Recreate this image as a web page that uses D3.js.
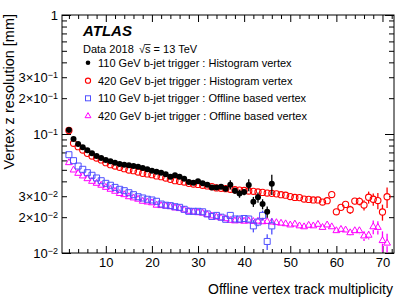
<!DOCTYPE html>
<html>
<head>
<meta charset="utf-8">
<script src="https://cdn.jsdelivr.net/npm/d3@7"></script>
<style>
body { margin: 0; background: #fff; }
text { font-family: "Liberation Sans", Arial, Helvetica, sans-serif; fill: #000; }
</style>
</head>
<body>
<script>
// track multiplicity (x) for the two triggers
var mult110 = [2,3,4,5,6,7,8,9,10,11,12,13,14,15,16,17,18,19,20,21,22,23,24,25,26,27,28,29,30,31,32,33,34,35,36,37,38,39,40,41,42,43,44,45,46];
var mult420 = [2,3,4,5,6,7,8,9,10,11,12,13,14,15,16,17,18,19,20,21,22,23,24,25,26,27,28,29,30,31,32,33,34,35,36,37,38,39,40,41,42,43,44,45,46,47,48,49,50,51,52,53,54,55,56,57,58,59,60,61,62,63,64,65,66,67,68,69,70,71];

// 110 GeV trigger : histogram vertex
var histo110 = [0.108,0.0908,0.0824,0.0773,0.0730,0.0688,0.0653,0.0628,0.0605,
  0.0590,0.0574,0.0560,0.0552,0.0546,0.0538,0.0531,0.0517,0.0505,0.0492,
  0.0482,0.0473,0.0458,0.0438,0.0450,0.0438,0.0421,0.0395,0.0390,0.0400,
  0.0385,0.0375,0.0356,0.0356,0.0361,0.0347,
  0.0375,0.0334,0.0316,0.0325,0.0373,0.0270,0.0294,0.0258,0.0222,0.0381];
var histo110Err = [0.0008,0.0006,0.0005,0.0005,0.0004,0.0004,0.0004,0.0004,0.0004,
  0.0004,0.0004,0.0005,0.0005,0.0005,0.0005,0.0006,0.0006,0.0006,0.0007,
  0.0007,0.0008,0.0008,0.0009,0.0009,0.0010,0.0010,0.0011,0.0012,0.0013,
  0.0013,0.0014,0.0015,0.0016,0.0017,0.0018,
  0.0033,0.0019,0.0025,0.0019,0.0043,0.0026,0.0029,0.0025,0.0024,0.0074];

// 420 GeV trigger : histogram vertex
var histo420 = [0.107,0.0835,0.0782,0.0734,0.0688,0.0653,0.0628,0.0605,0.0574,
  0.0552,0.0538,0.0525,0.0511,0.0498,0.0492,0.0479,0.0467,0.0462,0.0455,
  0.0444,0.0438,0.0427,0.0416,0.0405,0.0400,0.0395,0.0385,0.0380,0.0377,
  0.0371,0.0366,0.0361,0.0352,0.0350,0.0347,0.0343,0.0340,0.0338,0.0335,
  0.0332,0.0330,0.0326,0.0323,0.0319,0.0317,0.0314,0.0309,0.0306,0.0298,
  0.0293,0.0292,0.0284,0.0282,0.0279,0.0279,0.0268,0.0275,0.0310,0.0222,
  0.0242,0.0256,0.0231,0.0273,0.0272,0.0253,0.0294,0.0283,0.0276,0.0221,0.0297];
var histo420Err = [0.0006,0.0005,0.0004,0.0004,0.0003,0.0003,0.0003,0.0003,0.0003,
  0.0003,0.0003,0.0003,0.0003,0.0003,0.0003,0.0003,0.0003,0.0003,0.0003,
  0.0003,0.0003,0.0003,0.0003,0.0003,0.0003,0.0003,0.0003,0.0003,0.0003,
  0.0003,0.0003,0.0003,0.0003,0.0003,0.0003,0.0003,0.0003,0.0003,0.0003,
  0.0003,0.0003,0.0003,0.0004,0.0004,0.0004,0.0004,0.0004,0.0005,0.0005,
  0.0005,0.0006,0.0006,0.0007,0.0007,0.0008,0.0009,0.0010,0.0011,0.0013,
  0.0014,0.0015,0.0018,0.0016,0.0021,0.0025,0.0034,0.0033,0.0043,0.0034,0.0058];

// 110 GeV trigger : offline based vertex
var offline110 = [0.0670,0.0597,0.0538,0.0505,0.0473,0.0450,0.0427,0.0405,0.0385,
  0.0371,0.0356,0.0343,0.0334,0.0321,0.0309,0.0297,0.0290,0.0283,0.0279,
  0.0272,0.0258,0.0252,0.0250,0.0245,0.0242,0.0233,0.0224,0.0224,0.0224,
  0.0222,0.0213,0.0203,0.0207,0.0200,0.0192,
  0.0207,0.0193,0.0193,0.0195,0.0193,0.0169,0.0182,0.0207,0.0125,0.0169];
var offline110Err = [0.0005,0.0004,0.0004,0.0003,0.0003,0.0003,0.0003,0.0003,0.0003,
  0.0003,0.0003,0.0003,0.0003,0.0003,0.0004,0.0004,0.0004,0.0004,0.0004,
  0.0004,0.0005,0.0005,0.0005,0.0005,0.0006,0.0006,0.0006,0.0007,0.0007,
  0.0007,0.0008,0.0008,0.0009,0.0009,0.0010,
  0.0012,0.0012,0.0012,0.0012,0.0013,0.0020,0.0014,0.0020,0.0019,0.0026];

// 420 GeV trigger : offline based vertex
var offline420 = [0.0574,0.0498,0.0467,0.0444,0.0421,0.0400,0.0385,0.0371,0.0356,
  0.0343,0.0330,0.0316,0.0309,0.0297,0.0290,0.0283,0.0272,0.0268,0.0264,
  0.0252,0.0250,0.0248,0.0245,0.0239,0.0236,0.0230,0.0224,0.0221,0.0218,
  0.0216,0.0210,0.0205,0.0200,0.0197,0.0194,0.0188,0.0186,0.0187,0.0185,
  0.0186,0.0184,0.0185,0.0183,0.0184,0.0182,0.0180,0.0178,0.0176,0.0172,
  0.0175,0.0169,0.0166,0.0171,0.0169,0.0174,0.0164,0.0172,0.0166,0.0154,
  0.0158,0.0156,0.0148,0.0154,0.0154,0.0139,0.0141,0.0166,0.0164,0.0127,0.0121];
var offline420Err = [0.0004,0.0003,0.0003,0.0002,0.0002,0.0002,0.0002,0.0002,0.0002,
  0.0002,0.0002,0.0002,0.0002,0.0002,0.0002,0.0002,0.0002,0.0002,0.0002,
  0.0002,0.0002,0.0002,0.0002,0.0002,0.0002,0.0002,0.0002,0.0002,0.0002,
  0.0002,0.0002,0.0002,0.0002,0.0002,0.0003,0.0003,0.0003,0.0003,0.0003,
  0.0003,0.0003,0.0003,0.0003,0.0003,0.0003,0.0004,0.0004,0.0004,0.0004,
  0.0004,0.0004,0.0005,0.0005,0.0005,0.0005,0.0006,0.0006,0.0007,0.0008,
  0.0008,0.0008,0.0009,0.0009,0.0010,0.0013,0.0011,0.0022,0.0021,0.0025,0.0024];

var legendLabels = ["110 GeV b-jet trigger : Histogram vertex",
                    "420 GeV b-jet trigger : Histogram vertex",
                    "110 GeV b-jet trigger : Offline based vertex",
                    "420 GeV b-jet trigger : Offline based vertex"];

var xMajor = [10,20,30,40,50,60,70];
var xMinor = [2,4,6,8,12,14,16,18,22,24,26,28,32,34,36,38,42,44,46,48,52,54,56,58,62,64,66,68,72];
var yMajor = [0.01,0.1,1];
var yMinor = [0.02,0.03,0.04,0.05,0.06,0.07,0.08,0.09,0.2,0.3,0.4,0.5,0.6,0.7,0.8,0.9];
var yLabelled = [0.01,0.02,0.03,0.1,0.2,0.3,1];

var width = 415, height = 298;
var padL = 62, padR = 394, padT = 15, padB = 253;

var svg = d3.select("body").append("svg").attr("width", width).attr("height", height);

var x = d3.scaleLinear().domain([0.5, 72.5]).range([padL, padR]);
var y = d3.scaleLog().domain([0.01, 1]).range([padB, padT]);

//label like ROOT: 3x10^-2
function sciLabel(sel) {
  sel.each(function(d) {
    var t = d3.select(this);
    t.text(null);
    if (yLabelled.indexOf(d) < 0) return;
    if (d === 1) { t.text("1"); return; }
    var e = Math.floor(Math.log10(d) + 1e-9);
    var m = Math.round(d / Math.pow(10, e));
    t.append("tspan").text((m > 1 ? m + "\u00d7" : "") + "10");
    t.append("tspan").attr("dy", "-0.45em").attr("font-size", "9px").text("\u2212" + (-e));
  });
}

function tidy(g) { g.select(".domain").remove(); g.selectAll("line").attr("stroke", "#000"); }

//bottom axis
svg.append("g").attr("transform", "translate(0," + padB + ")")
  .call(d3.axisBottom(x).tickValues(xMajor).tickSize(-7).tickPadding(5).tickFormat(d3.format("d")))
  .call(tidy)
  .selectAll("text").attr("font-size", "13px").attr("font-family", "Liberation Sans, Arial, sans-serif");
svg.append("g").attr("transform", "translate(0," + padB + ")")
  .call(d3.axisBottom(x).tickValues(xMinor).tickSize(-4).tickFormat(""))
  .call(tidy);
//top axis
svg.append("g").attr("transform", "translate(0," + padT + ")")
  .call(d3.axisTop(x).tickValues(xMajor).tickSize(-7).tickFormat(""))
  .call(tidy);
svg.append("g").attr("transform", "translate(0," + padT + ")")
  .call(d3.axisTop(x).tickValues(xMinor).tickSize(-4).tickFormat(""))
  .call(tidy);

//left axis
var gl = svg.append("g").attr("transform", "translate(" + padL + ",0)")
  .call(d3.axisLeft(y).tickValues(yMajor).tickSize(-9).tickPadding(4))
  .call(tidy);
var glm = svg.append("g").attr("transform", "translate(" + padL + ",0)")
  .call(d3.axisLeft(y).tickValues(yMinor).tickSize(-5).tickPadding(4))
  .call(tidy);
gl.selectAll("text").attr("font-size", "13px").attr("font-family", "Liberation Sans, Arial, sans-serif").call(sciLabel);
glm.selectAll("text").attr("font-size", "13px").attr("font-family", "Liberation Sans, Arial, sans-serif").call(sciLabel);

//right axis
svg.append("g").attr("transform", "translate(" + padR + ",0)")
  .call(d3.axisRight(y).tickValues(yMajor).tickSize(-9).tickFormat(""))
  .call(tidy);
svg.append("g").attr("transform", "translate(" + padR + ",0)")
  .call(d3.axisRight(y).tickValues(yMinor).tickSize(-5).tickFormat(""))
  .call(tidy);

//frame
svg.append("rect").attr("x", padL).attr("y", padT).attr("width", padR - padL).attr("height", padB - padT)
  .attr("fill", "none").attr("stroke", "#000").attr("stroke-width", 1);

var plot = svg.append("g");

function drawSeries(xs, vals, errs, color, shape, gap) {
  var pts = xs.map(function(d, i) { return { x: d, v: vals[i], e: errs[i] }; });
  var g = plot.append("g");
  //error bars outside the marker
  pts.forEach(function(p) {
    var cx = x(p.x), cy = y(p.v);
    var yTop = y(p.v + p.e), yBot = y(Math.max(p.v - p.e, 0.0101));
    if (cy - gap > yTop) g.append("line").attr("x1", cx).attr("x2", cx).attr("y1", yTop).attr("y2", cy - gap)
      .attr("stroke", color).attr("stroke-width", 1.3);
    if (cy + gap < yBot) g.append("line").attr("x1", cx).attr("x2", cx).attr("y1", cy + gap).attr("y2", Math.min(yBot, padB))
      .attr("stroke", color).attr("stroke-width", 1.3);
  });
  var m = g.selectAll(".m").data(pts).enter();
  if (shape === "dot") {
    m.append("circle").attr("cx", function(d) { return x(d.x); }).attr("cy", function(d) { return y(d.v); })
      .attr("r", 3).attr("fill", color);
  } else if (shape === "circle") {
    m.append("circle").attr("cx", function(d) { return x(d.x); }).attr("cy", function(d) { return y(d.v); })
      .attr("r", 3.1).attr("fill", "none").attr("stroke", color).attr("stroke-width", 1.1);
  } else {
    var sym = shape === "square" ? d3.symbol(d3.symbolSquare, 36) : d3.symbol(d3.symbolTriangle, 20);
    m.append("path").attr("d", sym)
      .attr("transform", function(d) { return "translate(" + x(d.x) + "," + y(d.v) + ")"; })
      .attr("fill", "none").attr("stroke", color).attr("stroke-width", 1);
  }
}

drawSeries(mult420, offline420, offline420Err, "#ff00ff", "triangle", 3);
drawSeries(mult110, offline110, offline110Err, "#5050ff", "square", 3);
drawSeries(mult420, histo420, histo420Err, "#ff0000", "circle", 3);
drawSeries(mult110, histo110, histo110Err, "#000000", "dot", 0);

//titles
svg.append("text").attr("x", padR - 1).attr("y", 294).attr("text-anchor", "end")
  .attr("font-size", "14px").text("Offline vertex track multiplicity");
svg.append("text").attr("transform", "translate(14," + (padT - 1) + ") rotate(-90)").attr("text-anchor", "end")
  .attr("font-size", "14.5px").text("Vertex z resolution [mm]");

svg.append("text").attr("x", 83).attr("y", 36).attr("font-size", "15px").attr("font-weight", "bold")
  .attr("font-style", "italic").text("ATLAS");
svg.append("text").attr("x", 83).attr("y", 53).attr("font-size", "11px").text("Data 2018");
var sq = svg.append("text").attr("x", 139).attr("y", 53).attr("font-size", "11px").text("\u221as = 13 TeV");
//bar over the s of sqrt(s)
var rootW = sq.node().getSubStringLength(0, 1), sW = sq.node().getSubStringLength(1, 1);
svg.append("line").attr("x1", 139 + rootW - 0.5).attr("x2", 139 + rootW + sW).attr("y1", 44.5).attr("y2", 44.5)
  .attr("stroke", "#000").attr("stroke-width", 0.8);

//legend
var legY = [62.7, 80.7, 98.3, 116];
var legColors = ["#000000", "#ff0000", "#5050ff", "#ff00ff"];
var leg = svg.append("g");
legendLabels.forEach(function(lab, i) {
  var cx = 88, cy = legY[i];
  if (i === 0) leg.append("circle").attr("cx", cx).attr("cy", cy).attr("r", 2.3).attr("fill", legColors[i]);
  if (i === 1) leg.append("circle").attr("cx", cx).attr("cy", cy).attr("r", 2.6).attr("fill", "none").attr("stroke", legColors[i]).attr("stroke-width", 1.1);
  if (i === 2) leg.append("rect").attr("x", cx - 2.5).attr("y", cy - 2.5).attr("width", 5).attr("height", 5).attr("fill", "none").attr("stroke", legColors[i]);
  if (i === 3) leg.append("path").attr("d", d3.symbol(d3.symbolTriangle, 15)).attr("transform", "translate(" + cx + "," + cy + ")").attr("fill", "none").attr("stroke", legColors[i]);
  leg.append("text").attr("x", 98).attr("y", cy + 4).attr("font-size", "11px").text(lab);
});
</script>
</body>
</html>
